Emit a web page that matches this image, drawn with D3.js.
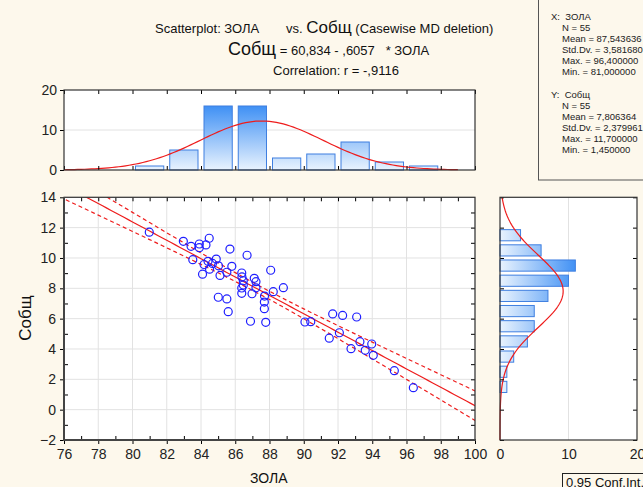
<!DOCTYPE html>
<html lang="ru">
<head>
<meta charset="utf-8">
<title>Scatterplot ЗОЛА vs Собщ</title>
<script src="https://d3js.org/d3.v7.min.js"></script>
<style>
  body { margin: 0; background: #fdf8ec; }
  svg { display: block; font-family: "Liberation Sans", Arial, sans-serif; }
  svg text { white-space: pre; }
  .tick text { font-size: 14px; fill: #222; }
  .grid line { stroke: #e2e2e2; }
</style>
</head>
<body>
<div id="chart"></div>
<script>
// points: ЗОЛА (x) and Собщ (y)
var zola = [80.98, 82.97, 83.42, 83.90, 83.90, 84.29, 84.48, 85.69, 86.69, 83.52,
            84.18, 84.41, 84.67, 84.89, 84.50, 85.02, 84.09, 85.11, 85.51, 85.80,
            86.38, 86.47, 86.47, 86.38, 86.39, 86.38, 87.11, 87.21, 87.21, 86.98,
            88.07, 87.71, 87.70, 87.70, 88.22, 88.81, 85.01, 85.51, 85.59, 86.89,
            87.78, 90.07, 90.41, 91.69, 92.27, 93.09, 92.08, 91.49, 93.28, 93.97,
            92.76, 93.59, 94.06, 95.29, 96.40];
var sobsch = [11.70, 11.10, 10.77, 10.92, 10.68, 10.86, 11.30, 10.59, 10.18, 9.89,
              9.57, 9.78, 9.64, 9.93, 9.26, 9.48, 8.93, 8.85, 9.06, 9.45,
              9.01, 8.50, 8.22, 8.02, 8.75, 7.67, 8.66, 8.44, 8.03, 7.64,
              9.19, 7.49, 7.09, 6.66, 7.78, 8.04, 7.41, 7.30, 6.46, 5.83,
              5.76, 5.78, 5.80, 6.31, 6.21, 6.11, 5.07, 4.71, 4.48, 4.33,
              4.02, 3.91, 3.58, 2.57, 1.45];

// histogram of ЗОЛА (bins of 2) and of Собщ (bins of 1)
var xBinStart = [80, 82, 84, 86, 88, 90, 92, 94, 96];
var xBinCount = [1, 5, 16, 16, 3, 4, 7, 2, 1];
var yBinStart = [11, 10, 9, 8, 7, 6, 5, 4, 3, 2, 1];
var yBinCount = [3, 6, 11, 10, 7, 5, 5, 4, 2, 1, 1];

// fit and summary stats shown on the chart
var intercept = 60.834, slope = -0.6057, corr = -0.9116;
var nObs = 55, meanX = 87.543636, sdX = 3.581680, meanY = 7.806364, sdY = 2.379961;

var xTicks = d3.range(76, 101, 2);
var yTicks = d3.range(-2, 15, 2);
var statsX = ["N = 55", "Mean = 87,543636", "Std.Dv. = 3,581680", "Max. = 96,400000", "Min. = 81,000000"];
var statsY = ["N = 55", "Mean = 7,806364", "Std.Dv. = 2,379961", "Max. = 11,700000", "Min. = 1,450000"];

var W = 643, H = 487;
var svg = d3.select("#chart").append("svg").attr("width", W).attr("height", H);

var fmt = function(v) { return d3.format("d")(v); };
var noDomain = function(g) { g.select(".domain").remove(); };

// scales
var x = d3.scaleLinear().domain([76, 100]).range([64, 475]);
var y = d3.scaleLinear().domain([-2, 14]).range([440, 197.3]);
var hy = d3.scaleLinear().domain([0, 20]).range([170, 90]);
var hx = d3.scaleLinear().domain([0, 20]).range([500, 637]);

var defs = svg.append("defs");
var gv = defs.append("linearGradient").attr("id", "gv")
  .attr("gradientUnits", "userSpaceOnUse")
  .attr("x1", 0).attr("x2", 0).attr("y1", hy(0)).attr("y2", hy(16.5));
gv.append("stop").attr("offset", 0).attr("stop-color", "#e9f3fe");
gv.append("stop").attr("offset", 1).attr("stop-color", "#3a8df4");
var gh = defs.append("linearGradient").attr("id", "gh")
  .attr("gradientUnits", "userSpaceOnUse")
  .attr("y1", 0).attr("y2", 0).attr("x1", hx(0)).attr("x2", hx(11.5));
gh.append("stop").attr("offset", 0).attr("stop-color", "#e9f3fe");
gh.append("stop").attr("offset", 1).attr("stop-color", "#3a8df4");
defs.append("clipPath").attr("id", "clipMain").append("rect")
  .attr("x", 64).attr("y", 197.3).attr("width", 411).attr("height", 242.7);

// ---------- titles ----------
var t1 = svg.append("text").attr("y", 33).attr("fill", "#111").attr("font-size", 13);
t1.append("tspan").attr("x", 155).text("Scatterplot: ЗОЛА");
t1.append("tspan").attr("x", 286).text("vs. ");
t1.append("tspan").attr("font-size", 17).text("Собщ");
t1.append("tspan").text(" (Casewise MD deletion)");

var t2 = svg.append("text").attr("y", 55).attr("fill", "#111").attr("font-size", 13);
t2.append("tspan").attr("x", 228).attr("font-size", 18).text("Собщ");
t2.append("tspan").text(" = 60,834 - ,6057   * ЗОЛА");

svg.append("text").attr("x", 336).attr("y", 75).attr("text-anchor", "middle")
  .attr("font-size", 13).attr("fill", "#111").text("Correlation: r = -,9116");

// ---------- stats box ----------
svg.append("rect").attr("x", 538.5).attr("y", -2).attr("width", 120).attr("height", 182)
  .attr("fill", "none").attr("stroke", "#555");
var sb = svg.append("g").attr("font-size", 9.5).attr("fill", "#222");
sb.append("text").attr("x", 551).attr("y", 20).text("X:  ЗОЛА");
statsX.forEach(function(s, i) { sb.append("text").attr("x", 562).attr("y", 31 + i * 11).text(s); });
sb.append("text").attr("x", 551).attr("y", 98).text("Y:  Собщ");
statsY.forEach(function(s, i) { sb.append("text").attr("x", 562).attr("y", 109 + i * 11).text(s); });

// ---------- top histogram ----------
var histTop = svg.append("g");
histTop.append("rect").attr("x", 64).attr("y", 90).attr("width", 411).attr("height", 80).attr("fill", "#fff");
histTop.append("line").attr("x1", 64).attr("x2", 475).attr("y1", hy(10)).attr("y2", hy(10)).attr("stroke", "#e2e2e2");
histTop.selectAll(".bx").data(xBinStart).enter().append("rect")
  .attr("x", function(d) { return x(d) + 3; })
  .attr("width", function(d) { return x(d + 2) - x(d) - 6; })
  .attr("y", function(d, i) { return hy(xBinCount[i]); })
  .attr("height", function(d, i) { return hy(0) - hy(xBinCount[i]); })
  .attr("fill", "url(#gv)").attr("stroke", "#3f7fe0").attr("stroke-width", 1);
var normX = d3.range(76, 99.01, 0.2).map(function(v) {
  var z = (v - meanX) / sdX;
  return [v, nObs * 2 * Math.exp(-0.5 * z * z) / (sdX * Math.sqrt(2 * Math.PI))];
});
histTop.append("path").datum(normX)
  .attr("d", d3.line().x(function(d) { return x(d[0]); }).y(function(d) { return hy(d[1]); }))
  .attr("fill", "none").attr("stroke", "#ee1c1c").attr("stroke-width", 1.2);
histTop.append("g").attr("transform", "translate(64,0)")
  .call(d3.axisLeft(hy).tickValues([0, 10, 20]).tickSize(4).tickPadding(3))
  .call(noDomain);
histTop.append("g").attr("transform", "translate(0,170)")
  .call(d3.axisBottom(x).tickValues(xTicks).tickSize(-4).tickFormat(""))
  .call(noDomain);
histTop.append("g").attr("transform", "translate(0,90)")
  .call(d3.axisTop(x).tickValues(xTicks).tickSize(-4).tickFormat(""))
  .call(noDomain);
histTop.append("rect").attr("x", 64).attr("y", 90).attr("width", 411).attr("height", 80)
  .attr("fill", "none").attr("stroke", "#333").attr("stroke-width", 1.2);

// ---------- main scatter ----------
var plot = svg.append("g");
plot.append("rect").attr("x", 64).attr("y", 197.3).attr("width", 411).attr("height", 242.7).attr("fill", "#fff");
plot.append("g").attr("class", "grid").selectAll("line").data(xTicks).enter().append("line")
  .attr("x1", function(d) { return x(d); }).attr("x2", function(d) { return x(d); })
  .attr("y1", 197.3).attr("y2", 440);
plot.append("g").attr("class", "grid").selectAll("line").data(yTicks).enter().append("line")
  .attr("y1", function(d) { return y(d); }).attr("y2", function(d) { return y(d); })
  .attr("x1", 64).attr("x2", 475);

// regression line and 95% confidence band for the mean
var sRes = sdY * Math.sqrt((1 - corr * corr) * (nObs - 1) / (nObs - 2));
var sxx = (nObs - 1) * sdX * sdX, tCrit = 2.0057;
var fit = d3.range(75, 100.51, 0.25).map(function(v) {
  var m = intercept + slope * v;
  var se = sRes * Math.sqrt(1 / nObs + (v - meanX) * (v - meanX) / sxx);
  return { v: v, m: m, lo: m - tCrit * se, hi: m + tCrit * se };
});
var fitLines = plot.append("g").attr("clip-path", "url(#clipMain)");
["m", "lo", "hi"].forEach(function(k) {
  fitLines.append("path").datum(fit)
    .attr("d", d3.line().x(function(d) { return x(d.v); }).y(function(d) { return y(d[k]); }))
    .attr("fill", "none").attr("stroke", "#ee1c1c").attr("stroke-width", 1.2)
    .attr("stroke-dasharray", k === "m" ? null : "4,3");
});

plot.selectAll("circle").data(zola).enter().append("circle")
  .attr("cx", function(d) { return x(d); })
  .attr("cy", function(d, i) { return y(sobsch[i]); })
  .attr("r", 4).attr("fill", "none").attr("stroke", "#1f1fff").attr("stroke-width", 1.2);

// axes
plot.append("g").attr("transform", "translate(0,440)")
  .call(d3.axisBottom(x).tickValues(xTicks).tickSize(4).tickPadding(5).tickFormat(fmt))
  .call(noDomain);
plot.append("g").attr("transform", "translate(0,440)")
  .call(d3.axisBottom(x).tickValues(d3.range(77, 100, 2)).tickSize(-4).tickFormat(""))
  .call(noDomain);
plot.append("g").attr("transform", "translate(64,0)")
  .call(d3.axisLeft(y).tickValues(yTicks).tickSize(4).tickPadding(4).tickFormat(fmt))
  .call(noDomain);
plot.append("g").attr("transform", "translate(64,0)")
  .call(d3.axisLeft(y).tickValues(d3.range(-1, 14, 2)).tickSize(-4).tickFormat(""))
  .call(noDomain);
plot.append("g").attr("transform", "translate(475,0)")
  .call(d3.axisRight(y).tickValues(d3.range(-1, 14, 1)).tickSize(-4).tickFormat(""))
  .call(noDomain);
plot.append("g").attr("transform", "translate(0,197.3)")
  .call(d3.axisTop(x).tickValues(d3.range(77, 100, 1)).tickSize(-4).tickFormat(""))
  .call(noDomain);
plot.append("rect").attr("x", 64).attr("y", 197.3).attr("width", 411).attr("height", 242.7)
  .attr("fill", "none").attr("stroke", "#333").attr("stroke-width", 1.2);
plot.append("line").attr("x1", 64).attr("x2", 64).attr("y1", 197).attr("y2", 441)
  .attr("stroke", "#444").attr("stroke-width", 2);
plot.append("line").attr("x1", 63).attr("x2", 476).attr("y1", 440).attr("y2", 440)
  .attr("stroke", "#444").attr("stroke-width", 2);

svg.append("text").attr("x", 250).attr("y", 483).attr("font-size", 14).attr("fill", "#111").text("ЗОЛА");
svg.append("text").attr("transform", "translate(31,318) rotate(-90)").attr("text-anchor", "middle")
  .attr("font-size", 17).attr("fill", "#111").text("Собщ");

// ---------- right histogram ----------
var histSide = svg.append("g");
histSide.append("rect").attr("x", 500).attr("y", 197.3).attr("width", 137).attr("height", 242.7).attr("fill", "#fff");
histSide.append("line").attr("x1", hx(10)).attr("x2", hx(10)).attr("y1", 197.3).attr("y2", 440).attr("stroke", "#e2e2e2");
histSide.selectAll(".by").data(yBinStart).enter().append("rect")
  .attr("x", hx(0))
  .attr("y", function(d) { return y(d + 1) + 2; })
  .attr("height", function(d) { return y(d) - y(d + 1) - 4; })
  .attr("width", function(d, i) { return hx(yBinCount[i]) - hx(0); })
  .attr("fill", "url(#gh)").attr("stroke", "#3f7fe0").attr("stroke-width", 1);
var normY = d3.range(-2, 14.01, 0.1).map(function(v) {
  var z = (v - meanY) / sdY;
  return [v, nObs * 1 * Math.exp(-0.5 * z * z) / (sdY * Math.sqrt(2 * Math.PI))];
});
histSide.append("path").datum(normY)
  .attr("d", d3.line().x(function(d) { return hx(d[1]); }).y(function(d) { return y(d[0]); }))
  .attr("fill", "none").attr("stroke", "#ee1c1c").attr("stroke-width", 1.2);
histSide.append("g").attr("transform", "translate(0,440)")
  .call(d3.axisBottom(hx).tickValues([0, 10, 20]).tickSize(0).tickPadding(9))
  .call(noDomain);
histSide.append("g").attr("transform", "translate(500,0)")
  .call(d3.axisLeft(y).tickValues(yTicks).tickSize(-4).tickFormat(""))
  .call(noDomain);
histSide.append("g").attr("transform", "translate(637,0)")
  .call(d3.axisRight(y).tickValues(yTicks).tickSize(-4).tickFormat(""))
  .call(noDomain);
histSide.append("rect").attr("x", 500).attr("y", 197.3).attr("width", 137).attr("height", 242.7)
  .attr("fill", "none").attr("stroke", "#333").attr("stroke-width", 1.2);

// legend box (cut by the right edge, as in the original)
svg.append("rect").attr("x", 562.5).attr("y", 473.5).attr("width", 100).attr("height", 20)
  .attr("fill", "#fdf8ec").attr("stroke", "#222");
svg.append("text").attr("x", 566).attr("y", 487).attr("font-size", 13).attr("fill", "#111").text("0.95 Conf.Int.");
</script>
</body>
</html>
